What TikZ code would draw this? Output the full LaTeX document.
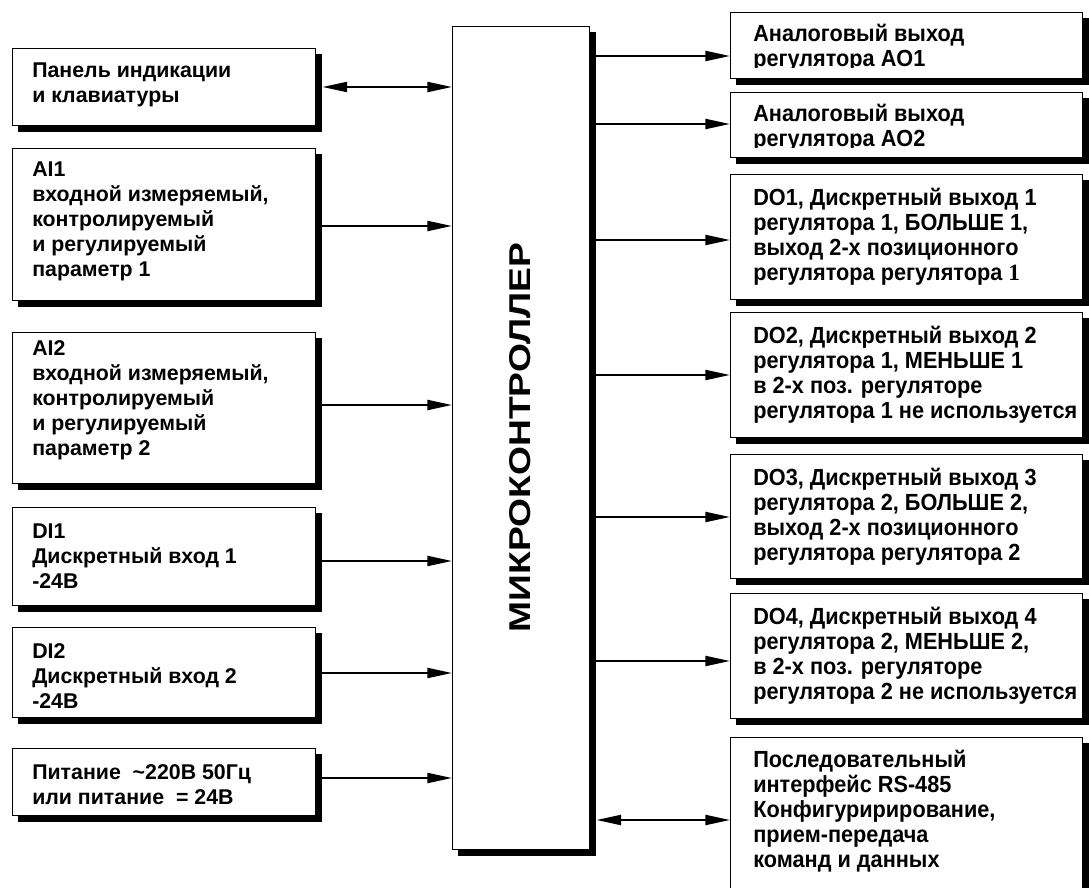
\documentclass[tikz,border=0pt]{standalone}
\usepackage{fontspec}
\usepackage{graphicx}
\setmainfont{Liberation Sans}
\newfontfamily\rfont{Liberation Sans}[FakeStretch=0.93]
\newfontfamily\serfont{Liberation Serif}
\usetikzlibrary{arrows.meta,backgrounds}
\tikzset{
  box/.style={draw=black, line width=1.1pt, fill=white, inner sep=0pt, anchor=north west},
  shadowbox/.style={fill=black},
  arr/.style={line width=1.6pt, -{Triangle[length=18.5pt,width=7.5pt]}},
  biarr/.style={line width=1.6pt, {Triangle[length=18.5pt,width=7.5pt]}-{Triangle[length=18.5pt,width=7.5pt]}, shorten <=4.5pt},
  lt/.style={anchor=base west, inner sep=0pt},
  lbox/.style={box, minimum width=227.25pt},
  rbox/.style={box, minimum width=264pt},
}
\newcommand{\ltx}[1]{\parbox[t]{280pt}{\fontsize{16pt}{18.75pt}\selectfont\bfseries\raggedright #1}}
\newcommand{\rtx}[1]{\parbox[t]{300pt}{\rfont\fontsize{17.5pt}{18.75pt}\selectfont\bfseries\raggedright #1}}
\begin{document}
\begin{tikzpicture}[x=0.75pt, y=-0.75pt]
\useasboundingbox (0,0) rectangle (1089,888);
\clip (0,0) rectangle (1089,888);

% central box
\node[box, minimum width=102.75pt, minimum height=617.25pt] (mc) at (452,26) {};
\node[rotate=90, inner sep=0pt] (mct) at (520.5,437.5) {\resizebox{291.75pt}{15.75pt}{\bfseries МИКРОКОНТРОЛЛЕР}};

% left boxes
\node[lbox, minimum height=57.75pt] (panel) at (12,48) {};
\node[lbox, minimum height=114pt] (ai1) at (12,148) {};
\node[lbox, minimum height=113.25pt] (ai2) at (12,332) {};
\node[lbox, minimum height=73.5pt] (di1) at (12,507) {};
\node[lbox, minimum height=67.5pt] (di2) at (12,627) {};
\node[lbox, minimum height=50.25pt] (pit) at (12,748) {};

\node[lt] (panelt) at (32,78) {\ltx{Панель индикации\\и клавиатуры}};
\node[lt] (ai1t) at (32,177) {\ltx{AI1\\входной измеряемый,\\контролируемый\\и регулируемый\\параметр 1}};
\node[lt] (ai2t) at (32,355) {\ltx{AI2\\входной измеряемый,\\контролируемый\\и регулируемый\\параметр 2}};
\node[lt] (di1t) at (32,538) {\ltx{DI1\\Дискретный вход 1\\-24В}};
\node[lt] (di2t) at (32,658) {\ltx{DI2\\Дискретный вход 2\\-24В}};
\node[lt] (pitt) at (32,779) {\ltx{Питание\ \ \textasciitilde220В 50Гц\\или питание\ \ = 24В}};

% right boxes
\node[rbox, minimum height=49.5pt] (ao1) at (730,12) {};
\node[rbox, minimum height=48.75pt] (ao2) at (730,92) {};
\node[rbox, minimum height=93.75pt] (do1) at (730,174) {};
\node[rbox, minimum height=93.75pt] (do2) at (730,312) {};
\node[rbox, minimum height=93pt] (do3) at (730,454) {};
\node[rbox, minimum height=93.75pt] (do4) at (730,593) {};
\node[rbox, minimum height=150pt] (rs) at (730,737) {};

% shadows behind the boxes
\begin{scope}[on background layer]
  \fill[white] (0,0) rectangle (1089,888);
  \foreach \n in {mc,panel,ai1,ai2,di1,di2,pit,ao1,ao2,do1,do2,do3,do4,rs}
    \fill[shadowbox] ([xshift=4.5pt,yshift=-4.5pt]\n.south west) rectangle ([xshift=4.5pt,yshift=-4.5pt]\n.north east);
\end{scope}

\begin{scope}
  \clip (730,12) rectangle (1082,68);
  \node[lt] (ao1t) at (753,42) {\rtx{Аналоговый выход\\регулятора AO1}};
\end{scope}
\begin{scope}
  \clip (730,92) rectangle (1082,148);
  \node[lt] (ao2t) at (753,122) {\rtx{Аналоговый выход\\регулятора AO2}};
\end{scope}
\node[lt] (do1t) at (753,205) {\rtx{DO1, Дискретный выход 1\\регулятора 1, БОЛЬШЕ 1,\\выход 2-х позиционного\\регулятора регулятора {\serfont 1}}};
\node[lt] (do2t) at (753,343) {\rtx{DO2, Дискретный выход 2\\регулятора 1, МЕНЬШЕ 1\\в 2-х поз. регуляторе\\регулятора 1 не используется}};
\node[lt] (do3t) at (753,485) {\rtx{DO3, Дискретный выход 3\\регулятора 2, БОЛЬШЕ 2,\\выход 2-х позиционного\\регулятора регулятора 2}};
\node[lt] (do4t) at (753,624) {\rtx{DO4, Дискретный выход 4\\регулятора 2, МЕНЬШЕ 2,\\в 2-х поз. регуляторе\\регулятора 2 не используется}};
\node[lt] (rst) at (753,767) {\rtx{Последовательный\\интерфейс RS-485\\Конфигуририрование,\\прием-передача\\команд и данных}};

% left connectors
\draw[biarr] (panel.east |- 0,87) -- (mc.west |- 0,87);
\draw[arr] (ai1.east |- 0,226) -- (mc.west |- 0,226);
\draw[arr] (ai2.east |- 0,405) -- (mc.west |- 0,405);
\draw[arr] (di1.east |- 0,561) -- (mc.west |- 0,561);
\draw[arr] (di2.east |- 0,673) -- (mc.west |- 0,673);
\draw[arr] (pit.east |- 0,778) -- (mc.west |- 0,778);

% right connectors
\draw[arr] (mc.east |- 0,56) -- (ao1.west |- 0,56);
\draw[arr] (mc.east |- 0,124) -- (ao2.west |- 0,124);
\draw[arr] (mc.east |- 0,240) -- (do1.west |- 0,240);
\draw[arr] (mc.east |- 0,375) -- (do2.west |- 0,375);
\draw[arr] (mc.east |- 0,517) -- (do3.west |- 0,517);
\draw[arr] (mc.east |- 0,661) -- (do4.west |- 0,661);
\draw[biarr] (mc.east |- 0,820) -- (rs.west |- 0,820);
\end{tikzpicture}
\end{document}
